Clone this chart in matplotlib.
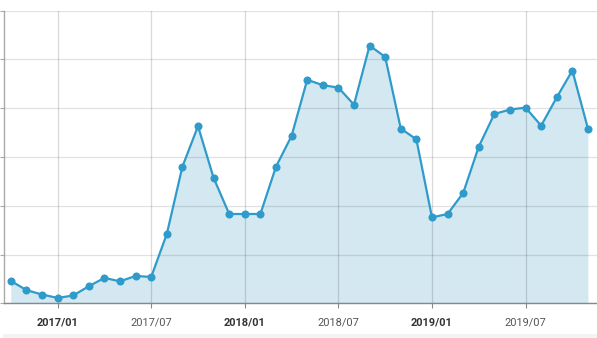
import matplotlib
matplotlib.use("Agg")
import matplotlib.pyplot as plt
from matplotlib.patches import Rectangle

months = ["2016/10", "2016/11", "2016/12",
          "2017/01", "2017/02", "2017/03", "2017/04", "2017/05", "2017/06",
          "2017/07", "2017/08", "2017/09", "2017/10", "2017/11", "2017/12",
          "2018/01", "2018/02", "2018/03", "2018/04", "2018/05", "2018/06",
          "2018/07", "2018/08", "2018/09", "2018/10", "2018/11", "2018/12",
          "2019/01", "2019/02", "2019/03", "2019/04", "2019/05", "2019/06",
          "2019/07", "2019/08", "2019/09", "2019/10", "2019/11"]
values = [46, 27, 18, 11, 16, 35, 52, 45, 56, 54, 142, 280, 363, 257, 183,
          183, 183, 280, 343, 458, 447, 442, 407, 528, 505, 358, 336,
          176, 183, 226, 321, 388, 397, 401, 364, 422, 477, 358]
tick_labels = ["2017/01", "2017/07", "2018/01", "2018/07", "2019/01", "2019/07"]
y_ticks = [0, 100, 200, 300, 400, 500, 600]

W, H = 597, 338
fig = plt.figure(figsize=(W / 100, H / 100), dpi=100)
left, right, top, bottom = 3.5, 597, 10.5, 303.3
ax = fig.add_axes([left / W, 1 - bottom / H, (right - left) / W, (bottom - top) / H])

x = list(range(len(values)))
ax.fill_between(x, values, 0, color="#d3e8f1", lw=0, zorder=0.5)
ax.plot(x, values, color="#2f9bcb", lw=1.6, marker="o", markersize=5.8,
        markerfacecolor="#2f9bcb", markeredgewidth=0, zorder=3)

ax.set_xlim(-0.47, 37.58)
ax.set_ylim(0, 600)

tick_pos = [months.index(t) for t in tick_labels]
ax.set_xticks(tick_pos)
ax.set_xticklabels(tick_labels)
for lab in ax.get_xticklabels():
    if lab.get_text().endswith("/01"):
        lab.set_fontweight("bold")
        lab.set_color("#333333")
    else:
        lab.set_color("#555555")
    lab.set_fontfamily("Roboto")
    lab.set_fontsize(7.9)

ax.set_yticks(y_ticks)
ax.set_yticklabels([])
ax.tick_params(axis="x", length=3.5, width=0.8, color="#888888", pad=7)
ax.tick_params(axis="y", length=3, width=0.8, color="#aaaaaa")

ax.set_axisbelow(False)
for gl in ax.get_ygridlines():
    pass
ax.grid(True, axis="y", color="black", alpha=0.115, lw=0.9)
ax.grid(True, axis="x", color="black", alpha=0.15, lw=0.9)
for gl in ax.get_xgridlines() + ax.get_ygridlines():
    gl.set_zorder(1.5)

for s in ["top", "right"]:
    ax.spines[s].set_visible(False)
ax.spines["left"].set_color("#aaaaaa")
ax.spines["left"].set_linewidth(1.0)
ax.spines["bottom"].set_color("#888888")
ax.spines["bottom"].set_linewidth(1.0)
ax.spines["bottom"].set_zorder(4)

fig.patches.append(Rectangle((3 / W, 0), (W - 3) / W, 4 / H, transform=fig.transFigure,
                             facecolor="#f3f3f3", edgecolor="none"))

fig.savefig("out.png", dpi=100)
